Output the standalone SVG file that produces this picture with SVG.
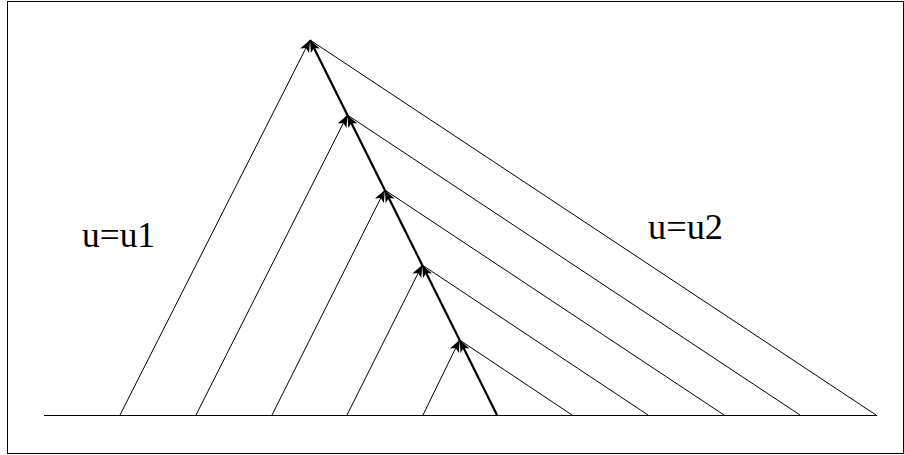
<svg xmlns="http://www.w3.org/2000/svg" width="904" height="455" viewBox="0 0 904 455">
<style>
.thin{stroke:#000;stroke-width:1;fill:none}
.thick{stroke:#000;stroke-width:2.2;fill:none}
.lbl{font-family:"Liberation Serif","Times New Roman",serif;font-size:35px;fill:#000}
</style>
<defs>
<marker id="ah" markerUnits="userSpaceOnUse" markerWidth="14" markerHeight="12" refX="12" refY="5" orient="auto" viewBox="0 0 14 10">
<path d="M0,0 L12,5 L0,10 L3,5 Z" fill="#000"/>
</marker>
</defs>
<rect x="7.5" y="1.5" width="896" height="452" fill="#fff" stroke="#000" stroke-width="1"/>
<g id="connectors">
<line class="thin" x1="44" y1="415.5" x2="877" y2="415.5"/>
<g id="left-lines">
<line class="thin" x1="120" y1="415" x2="310" y2="40" marker-end="url(#ah)"/>
<line class="thin" x1="196" y1="415" x2="347.4" y2="115" marker-end="url(#ah)"/>
<line class="thin" x1="272" y1="415" x2="384.8" y2="190" marker-end="url(#ah)"/>
<line class="thin" x1="347" y1="415" x2="422.2" y2="265" marker-end="url(#ah)"/>
<line class="thin" x1="423" y1="415" x2="459.6" y2="340" marker-end="url(#ah)"/>
</g>
<g id="right-lines">
<line class="thin" x1="876" y1="415" x2="310" y2="40"/>
<line class="thin" x1="800" y1="415" x2="347.4" y2="115"/>
<line class="thin" x1="724" y1="415" x2="384.8" y2="190"/>
<line class="thin" x1="648" y1="415" x2="422.2" y2="265"/>
<line class="thin" x1="572" y1="415" x2="459.6" y2="340"/>
</g>
<g id="shock">
<line class="thick" x1="497" y1="415" x2="459.6" y2="340" marker-end="url(#ah)"/>
<line class="thick" x1="459.6" y1="340" x2="422.2" y2="265" marker-end="url(#ah)"/>
<line class="thick" x1="422.2" y1="265" x2="384.8" y2="190" marker-end="url(#ah)"/>
<line class="thick" x1="384.8" y1="190" x2="347.4" y2="115" marker-end="url(#ah)"/>
<line class="thick" x1="347.4" y1="115" x2="310" y2="40" marker-end="url(#ah)"/>
</g>
</g>
<g id="label-u1"><text class="lbl" x="82" y="247" textLength="73" lengthAdjust="spacingAndGlyphs">u=u1</text></g>
<g id="label-u2"><text class="lbl" x="648" y="239" textLength="75" lengthAdjust="spacingAndGlyphs">u=u2</text></g>
</svg>
